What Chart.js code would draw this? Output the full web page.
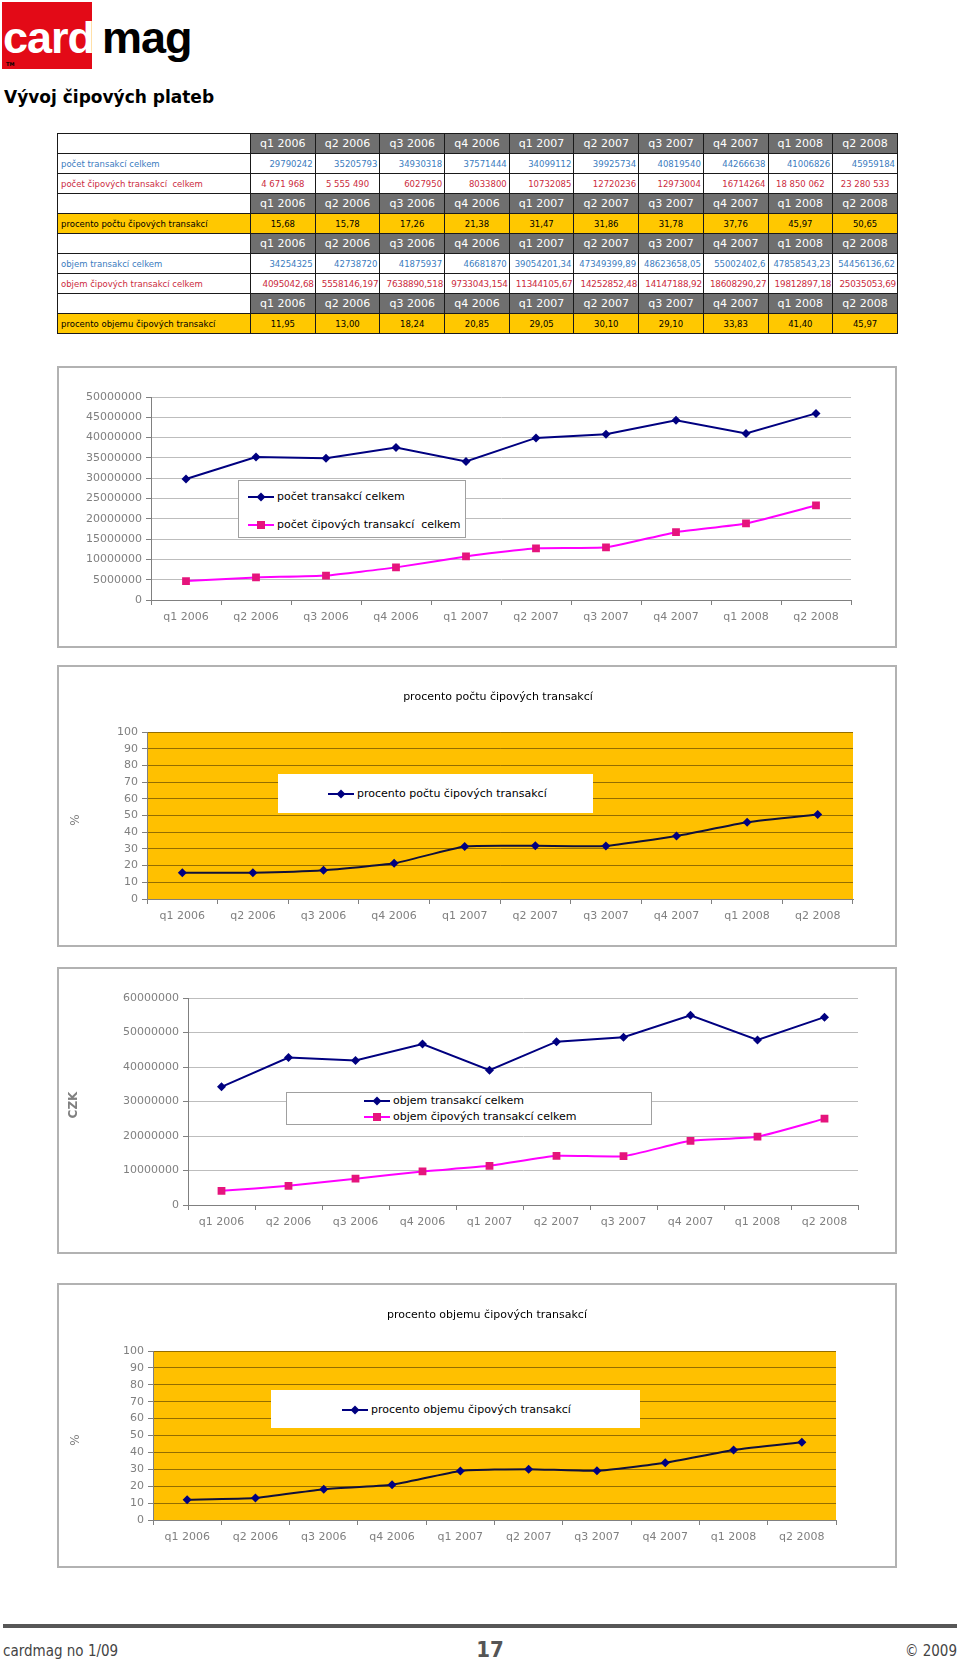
<!DOCTYPE html>
<html>
<head>
<meta charset="utf-8">
<script src="https://cdn.jsdelivr.net/npm/chart.js@4.4.1/dist/chart.umd.min.js"></script>
<style>
  body { margin: 0; width: 960px; height: 1666px; position: relative; background: #fff; overflow: hidden;
         font-family: "DejaVu Sans", Verdana, sans-serif; }
  .abs { position: absolute; }
  .frame { position: absolute; box-sizing: border-box; border: 2px solid #b2b2b2; background: #fff; }
  canvas { position: absolute; }
  .legend { position: absolute; box-sizing: border-box; background: #fff; font-size: 11px; color: #000; }
  .legend .item { position: absolute; white-space: nowrap; display: flex; align-items: center; }
  .legend svg { margin-right: 3px; }
  .ctitle { position: absolute; text-align: center; font-size: 11px; color: #000; }
  .ytitle { position: absolute; width: 60px; height: 20px; line-height: 20px; text-align: center;
            transform: rotate(-90deg); color: #808080; font-size: 12px; }
  table { border-collapse: collapse; table-layout: fixed; }
  td { border: 1px solid #1a1a1a; height: 19px; padding: 0 2px; white-space: nowrap; overflow: hidden; font-size: 8.5px; }
  td.h { background: #6f6f6f; color: #fff; font-size: 11px; text-align: center; }
  td.lab { text-align: left; padding-left: 3px; }
  .blue { color: #3b7cc0; }
  .red { color: #cc2c40; }
  .yel { background: #ffc800; color: #000; text-align: center; }
</style>
</head>
<body>

<!-- logo -->
<div class="abs" style="left:2px;top:2px;width:90px;height:67px;background:#e30a17"></div>
<div class="abs" style="left:3px;top:15px;font:bold 45px/45px 'Liberation Sans',Arial,sans-serif;white-space:nowrap;letter-spacing:-1px">
  <span style="color:#fff">card</span><span style="color:#000;margin-left:8px">mag</span>
</div>
<div class="abs" style="left:6px;top:61px;font:bold 5px 'DejaVu Sans';color:#000">TM</div>
<div class="abs" style="left:4px;top:86px;font:bold 17px/22px 'DejaVu Sans',Verdana,sans-serif;color:#000">Vývoj čipových plateb</div>

<!-- table -->
<table id="tbl" class="abs" style="left:57px;top:133px;width:841px"></table>

<!-- chart 1 -->
<div class="frame" style="left:57px;top:366px;width:840px;height:282px"></div>
<canvas id="c1" width="840" height="282" style="left:57px;top:366px"></canvas>
<div class="legend" style="left:238px;top:480px;width:228px;height:58px;border:1px solid #a0a0a0">
  <div class="item" style="left:9px;top:9px">
    <svg width="26" height="10"><line x1="0" y1="5" x2="26" y2="5" stroke="#000080" stroke-width="2"/><polygon points="13,0.5 17.5,5 13,9.5 8.5,5" fill="#000080"/></svg>počet transakcí celkem</div>
  <div class="item" style="left:9px;top:37px">
    <svg width="26" height="10"><line x1="0" y1="5" x2="26" y2="5" stroke="#ff00ff" stroke-width="2"/><rect x="9" y="1" width="8" height="8" fill="#e5147c"/></svg>počet čipových transakcí&nbsp; celkem</div>
</div>

<!-- chart 2 -->
<div class="frame" style="left:57px;top:665px;width:840px;height:282px"></div>
<canvas id="c2" width="840" height="282" style="left:57px;top:665px"></canvas>
<div class="ctitle" style="left:298px;top:690px;width:400px">procento počtu čipových transakcí</div>
<div class="ytitle" style="left:45px;top:810px">%</div>
<div class="legend" style="left:278px;top:774px;width:315px;height:39px">
  <div class="item" style="left:50px;top:13px">
    <svg width="26" height="10"><line x1="0" y1="5" x2="26" y2="5" stroke="#000080" stroke-width="2"/><polygon points="13,0.5 17.5,5 13,9.5 8.5,5" fill="#000080"/></svg>procento počtu čipových transakcí</div>
</div>

<!-- chart 3 -->
<div class="frame" style="left:57px;top:967px;width:840px;height:287px"></div>
<canvas id="c3" width="840" height="287" style="left:57px;top:967px"></canvas>
<div class="ytitle" style="left:43px;top:1095px;font-weight:bold">CZK</div>
<div class="legend" style="left:286px;top:1092px;width:366px;height:33px;border:1px solid #a0a0a0">
  <div class="item" style="left:77px;top:1px">
    <svg width="26" height="10"><line x1="0" y1="5" x2="26" y2="5" stroke="#000080" stroke-width="2"/><polygon points="13,0.5 17.5,5 13,9.5 8.5,5" fill="#000080"/></svg>objem transakcí celkem</div>
  <div class="item" style="left:77px;top:17px">
    <svg width="26" height="10"><line x1="0" y1="5" x2="26" y2="5" stroke="#ff00ff" stroke-width="2"/><rect x="9" y="1" width="8" height="8" fill="#e5147c"/></svg>objem čipových transakcí celkem</div>
</div>

<!-- chart 4 -->
<div class="frame" style="left:57px;top:1283px;width:840px;height:285px"></div>
<canvas id="c4" width="840" height="285" style="left:57px;top:1283px"></canvas>
<div class="ctitle" style="left:287px;top:1308px;width:400px">procento objemu čipových transakcí</div>
<div class="ytitle" style="left:45px;top:1430px">%</div>
<div class="legend" style="left:271px;top:1390px;width:369px;height:38px">
  <div class="item" style="left:71px;top:13px">
    <svg width="26" height="10"><line x1="0" y1="5" x2="26" y2="5" stroke="#000080" stroke-width="2"/><polygon points="13,0.5 17.5,5 13,9.5 8.5,5" fill="#000080"/></svg>procento objemu čipových transakcí</div>
</div>

<!-- footer -->
<div class="abs" style="left:3px;top:1624px;width:954px;height:4px;background:#575757"></div>
<div class="abs" style="left:3px;top:1642px;font:15px/18px 'Liberation Sans Narrow','DejaVu Sans Condensed',sans-serif;color:#444">cardmag no 1/09</div>
<div class="abs" style="left:440px;top:1639px;width:100px;text-align:center;font:bold 22px/22px 'DejaVu Sans Condensed','DejaVu Sans',sans-serif;color:#555">17</div>
<div class="abs" style="left:857px;top:1642px;width:100px;text-align:right;font:15px/18px 'Liberation Sans Narrow','DejaVu Sans Condensed',sans-serif;color:#444">© 2009</div>

<script>
// quarters
const quarters = ['q1 2006', 'q2 2006', 'q3 2006', 'q4 2006', 'q1 2007', 'q2 2007', 'q3 2007', 'q4 2007', 'q1 2008', 'q2 2008'];

// table values as printed (also used for the charts)
const countTotal = ['29790242', '35205793', '34930318', '37571444', '34099112', '39925734', '40819540', '44266638', '41006826', '45959184'];
const countChip = ['4 671 968', '5 555 490', '6027950', '8033800', '10732085', '12720236', '12973004', '16714264', '18 850 062', '23 280 533'];
const countPct = ['15,68', '15,78', '17,26', '21,38', '31,47', '31,86', '31,78', '37,76', '45,97', '50,65'];
const volTotal = ['34254325', '42738720', '41875937', '46681870', '39054201,34', '47349399,89', '48623658,05', '55002402,6', '47858543,23', '54456136,62'];
const volChip = ['4095042,68', '5558146,197', '7638890,518', '9733043,154', '11344105,67', '14252852,48', '14147188,92', '18608290,27', '19812897,18', '25035053,69'];
const volPct = ['11,95', '13,00', '18,24', '20,85', '29,05', '30,10', '29,10', '33,83', '41,40', '45,97'];

const toNum = s => parseFloat(s.replace(/\s/g, '').replace(',', '.'));

// build the table
function addRow(cls, label, cells, align) {
    const tr = document.createElement('tr');
    let html = `<td class="lab ${cls}" style="width:188px">${label}</td>`;
    cells.forEach(c => {
        const a = align ? align(c) : '';
        html += `<td class="${cls}" style="${a}">${c}</td>`;
    });
    tr.innerHTML = html;
    document.getElementById('tbl').appendChild(tr);
}
function addHeader() {
    const tr = document.createElement('tr');
    tr.innerHTML = '<td style="width:188px"></td>' + quarters.map(q => `<td class="h">${q}</td>`).join('');
    document.getElementById('tbl').appendChild(tr);
}
const alignNum = s => s.includes(' ') ? 'text-align:center' : 'text-align:right';

addHeader();
addRow('blue', 'počet transakcí celkem', countTotal, alignNum);
addRow('red', 'počet čipových transakcí&nbsp; celkem', countChip, alignNum);
addHeader();
addRow('yel', 'procento počtu čipových transakcí', countPct);
addHeader();
addRow('blue', 'objem transakcí celkem', volTotal, alignNum);
addRow('red', 'objem čipových transakcí celkem', volChip, s => 'text-align:right;font-size:8.8px;padding:0 1px;letter-spacing:-0.2px');
addHeader();
addRow('yel', 'procento objemu čipových transakcí', volPct);

// plot background fill
const plotFill = {
    id: 'plotFill',
    beforeDraw(chart, args, opts) {
        if (!opts.color) return;
        const { ctx, chartArea: a } = chart;
        ctx.save();
        ctx.fillStyle = opts.color;
        ctx.fillRect(a.left, a.top, a.right - a.left, a.bottom - a.top);
        ctx.restore();
    }
};

const FONT = '"DejaVu Sans", Verdana, sans-serif';
const GREY = '#808080';

function navy(data, color, tension) {
    return { data: data.map(toNum), borderColor: color || '#000080', backgroundColor: '#000080',
             borderWidth: 2, pointStyle: 'rectRot', pointRadius: 4.5, pointBorderWidth: 0, tension: tension || 0 };
}
function pink(data) {
    return { data: data.map(toNum), borderColor: '#ff00ff', backgroundColor: '#e5147c',
             borderWidth: 2, pointStyle: 'rect', pointRadius: 5.5, pointBorderWidth: 0, tension: 0.15 };
}

function lineChart(id, c) {
    return new Chart(document.getElementById(id), {
        type: 'line',
        data: { labels: quarters, datasets: c.datasets },
        options: {
            responsive: false,
            animation: false,
            layout: { padding: { left: 0, top: c.top, right: c.right, bottom: 0 } },
            plugins: { legend: { display: false }, tooltip: { enabled: false }, plotFill: { color: c.fill } },
            scales: {
                x: {
                    offset: true,
                    grid: { offset: true, drawOnChartArea: false, tickLength: 5, color: GREY },
                    border: { color: GREY },
                    ticks: { color: GREY, font: { family: FONT, size: 11 }, padding: 6, maxRotation: 0, autoSkip: false },
                    afterFit: s => { s.height = c.xh; }
                },
                y: {
                    min: 0, max: c.max,
                    grid: { color: c.grid, tickLength: 5, tickColor: GREY },
                    border: { color: GREY },
                    ticks: { stepSize: c.step, color: GREY, font: { family: FONT, size: 11 }, padding: 4, callback: v => v },
                    afterFit: s => { s.width = c.yw; }
                }
            }
        },
        plugins: [plotFill]
    });
}

// počet transakcí
lineChart('c1', {
    datasets: [navy(countTotal), pink(countChip)],
    top: 31, right: 46, xh: 48, yw: 94, max: 50000000, step: 5000000, grid: '#bdbdbd'
});

// procento počtu
lineChart('c2', {
    datasets: [navy(countPct, '#10103a', 0.15)],
    top: 67, right: 44, xh: 48, yw: 90, max: 100, step: 10, grid: 'rgba(60,40,0,0.55)', fill: '#ffc000'
});

// objem transakcí
lineChart('c3', {
    datasets: [navy(volTotal), pink(volChip)],
    top: 31, right: 39, xh: 49, yw: 131, max: 60000000, step: 10000000, grid: '#bdbdbd'
});

// procento objemu
lineChart('c4', {
    datasets: [navy(volPct, '#10103a', 0.15)],
    top: 68, right: 61, xh: 48, yw: 96, max: 100, step: 10, grid: 'rgba(60,40,0,0.55)', fill: '#ffc000'
});
</script>
</body>
</html>
